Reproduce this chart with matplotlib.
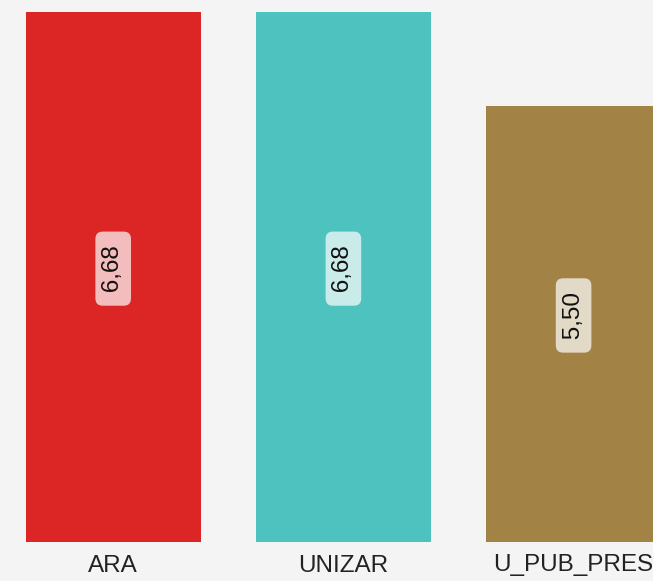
import matplotlib
matplotlib.use("Agg")
import matplotlib.pyplot as plt

plt.rcParams['font.family'] = ['Liberation Sans', 'DejaVu Sans']

# данные
categories = ["ARA", "UNIZAR", "U_PUB_PRES"]
values = [6.68, 6.68, 5.50]
labels = ["6,68", "6,68", "5,50"]
colors = ["#dc2626", "#4ec2be", "#a38245"]

W, H = 653, 581
fig = plt.figure(figsize=(W / 100, H / 100), dpi=100, facecolor="#f4f4f4")
ax = fig.add_axes([0, 39 / H, 1, 1 - 39 / H])
ax.set_facecolor("#f4f4f4")

x = list(range(len(categories)))
ax.bar(x, values, width=0.7615, color=colors)

for xi, v, lab in zip(x, values, labels):
    # пробелы по краям - чтобы плашка была длиннее вдоль текста
    ax.annotate(" " + lab + " ", (xi, v / 2), xytext=(0, 6), textcoords="offset points",
                ha="center", va="center", rotation=90, fontsize=17.5,
                color="#111111",
                bbox=dict(boxstyle="round,pad=0.28,rounding_size=0.3",
                          fc="white", ec="none", alpha=0.7))

ax.set_xlim(-0.4918, 2.345)
ax.set_ylim(0, 6.831)
ax.set_xticks(x)
ax.set_xticklabels(categories, fontsize=17.5, color="#222222")
ax.tick_params(axis="x", length=0, pad=9)
ax.set_yticks([])
for s in ax.spines.values():
    s.set_visible(False)

fig.savefig("out.png", dpi=100, facecolor=fig.get_facecolor())
